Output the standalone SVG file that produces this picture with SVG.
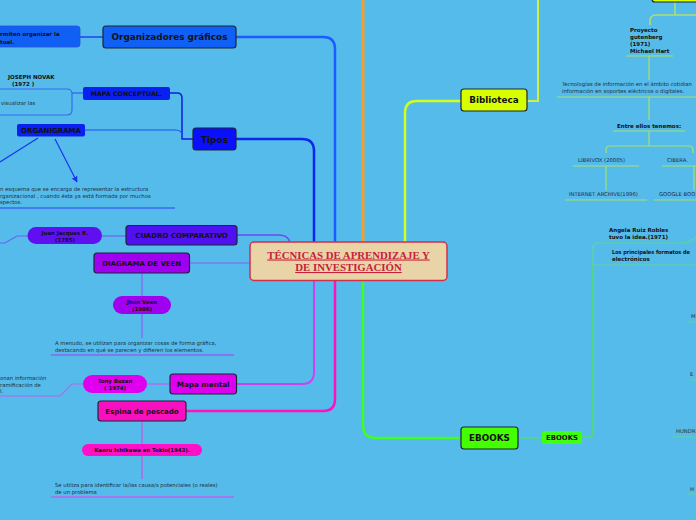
<svg xmlns="http://www.w3.org/2000/svg" width="696" height="520" viewBox="0 0 696 520">
<defs>
<style>
.nd{stroke:#1b2733;stroke-width:1.2}
.t{font-family:"DejaVu Sans",Verdana,sans-serif;font-weight:bold;fill:#111;text-anchor:middle}
.s{font-family:"DejaVu Sans",Verdana,sans-serif;font-size:5.3px;fill:#1e2d3c}
.sb{font-family:"DejaVu Sans",Verdana,sans-serif;font-size:5.5px;font-weight:bold;fill:#111}
.c{fill:none}
</style>
<marker id="arr" viewBox="0 0 10 10" refX="9" refY="5" markerWidth="5" markerHeight="5" orient="auto"><path d="M0,0 L10,5 L0,10 z" fill="#1a35f0"/></marker>
</defs>
<rect width="696" height="520" fill="#55bbea"/>

<g id="connectors" class="c">
<path d="M363,0 V242" stroke="#f0a030" stroke-width="3"/>
<path d="M236,37 H323 Q335,37 335,49 V242" stroke="#1a5cff" stroke-width="2.5"/>
<path d="M236,139 H302 Q314,139 314,151 V242" stroke="#0a28f0" stroke-width="2.5"/>
<path d="M237,235 H278 Q290,235 290,245" stroke="#6a4ef0" stroke-width="1.5"/>
<path d="M189,263 H250" stroke="#8a60f0" stroke-width="1.2"/>
<path d="M236,384 H302 Q314,384 314,372 V280" stroke="#d040f0" stroke-width="2"/>
<path d="M186,411 H323 Q335,411 335,399 V280" stroke="#ff10c0" stroke-width="2.5"/>
<path d="M363,280 V425 Q363,438 376,438 H461" stroke="#40ff20" stroke-width="2.5"/>
<path d="M405,242 V113 Q405,101 417,101 H461" stroke="#d0ff20" stroke-width="2.5"/>
<path d="M527,101 H538 V0" stroke="#d0f040" stroke-width="2"/>
<path d="M80,37 H103" stroke="#2a60f0" stroke-width="2"/>
<path d="M170,93 H177 Q182,93 182,98 V139 H193" stroke="#0a20e0" stroke-width="1.5"/>
<path d="M85,130 H176 Q182,130 182,136" stroke="#2050f0" stroke-width="1.2"/>
<path d="M83,93 H72" stroke="#2a60f0" stroke-width="1.2"/>
<path d="M0,89 H67 Q72,89 72,94 V110 Q72,115 67,115 H0" stroke="#3a6af0" stroke-width="1.2"/>
<path d="M38,138 L0,162" stroke="#1a35f0" stroke-width="1.2"/>
<path d="M55,139 L77,182" stroke="#1a35f0" stroke-width="1.2" marker-end="url(#arr)"/>
<path d="M0,208 H175" stroke="#3a6af0" stroke-width="1.5"/>
<path d="M102,236 H126" stroke="#7060f0" stroke-width="1.2"/>
<path d="M28,236 H17 L5,243 H0" stroke="#7060f0" stroke-width="1.2"/>
<path d="M142,273 V296 M142,314 V338" stroke="#8a60f0" stroke-width="1.2"/>
<path d="M51,355 H234" stroke="#9060f0" stroke-width="1.5"/>
<path d="M147,384 H170" stroke="#c060f0" stroke-width="1.2"/>
<path d="M83,384 H72 L60,396 H0" stroke="#c060f0" stroke-width="1.2"/>
<path d="M142,421 V444 M142,456 V479" stroke="#d050e0" stroke-width="1.2"/>
<path d="M51,497 H234" stroke="#c060f0" stroke-width="1.5"/>
<path d="M675,2 V15 M696,15 H656 Q650,15 650,21 V25" stroke="#b0e070" stroke-width="1.5"/>
<path d="M626,56 H673 M649,56 V80 M557,97 H696 M649,97 V120 M613,131 H685 M649,131 V146" stroke="#a8e070" stroke-width="1.2"/>
<path d="M606,153 V150 Q606,146 610,146 H689 Q693,146 693,150 V153" stroke="#a8e070" stroke-width="1.2"/>
<path d="M573,166 H639 M662,166 H696 M606,166 V190 M694,166 V186 Q694,190 693,190 M565,200 H647 M654,200 H696" stroke="#a8e070" stroke-width="1.2"/>
<path d="M696,237 Q690,243 683,243 H598 Q593,243 593,248 V265 H696" stroke="#60d890" stroke-width="1.2"/>
<path d="M593,265 V433 Q593,437 589,437 H582" stroke="#50d880" stroke-width="2"/>
<path d="M518,438 H542" stroke="#50d880" stroke-width="1.5"/>
<path d="M687,322 H696 M690,380 H696 M672,437 H696 M688,494 H696" stroke="#60d890" stroke-width="1.2"/>
</g>

<g id="central">
<rect x="250" y="242" width="197" height="38.5" rx="4" fill="#e9d4a8" stroke="#d0304a" stroke-width="1.5"/>
<text x="348.5" y="258.5" font-family="'Liberation Serif','Times New Roman',serif" font-weight="bold" font-size="10.8" fill="#c8203a" text-anchor="middle" text-decoration="underline">TÉCNICAS DE APRENDIZAJE Y</text>
<text x="348.5" y="271" font-family="'Liberation Serif','Times New Roman',serif" font-weight="bold" font-size="10.8" fill="#c8203a" text-anchor="middle" text-decoration="underline">DE INVESTIGACIÓN</text>
</g>

<g id="n-organizadores">
<rect class="nd" x="103" y="26" width="133" height="22" rx="3" fill="#1060f5"/>
<text class="t" x="169.5" y="40.2" font-size="8.9">Organizadores gráficos</text>
</g>
<g id="n-permiten">
<rect x="-10" y="26" width="90" height="21" rx="3" fill="#1060f5" stroke="#2a50d0" stroke-width="0.8"/>
<text class="sb" x="0" y="35.5" font-size="6.9">rmiten organizar la</text>
<text class="sb" x="0" y="44" font-size="6.9">tual.</text>
</g>
<g id="n-tipos">
<rect class="nd" x="193" y="128" width="43" height="22" rx="3" fill="#0a10ff"/>
<text class="t" x="214.5" y="142.5" font-size="9">Tipos</text>
</g>
<g id="n-mapa-conceptual">
<rect x="83" y="87" width="87" height="13" rx="2" fill="#0a20f0"/>
<text class="t" x="126.5" y="96" font-size="6.3">MAPA CONCEPTUAL.</text>
</g>
<g id="n-novak">
<text class="sb" x="8" y="79">JOSEPH NOVAK</text>
<text class="sb" x="12" y="86">(1972 )</text>
<text class="s" x="1" y="105">visualizar las</text>
</g>
<g id="n-organigrama">
<rect x="17" y="124" width="68" height="12.5" rx="2" fill="#0a20f0"/>
<text class="t" x="51" y="132.8" font-size="7">ORGANIGRAMA</text>
</g>
<g id="n-organigrama-text">
<text class="s" x="0" y="191">n esquema que se encarga de representar la estructura</text>
<text class="s" x="0" y="197.5">rganizacional , cuando ésta ya está formada por muchos</text>
<text class="s" x="0" y="204">spectos.</text>
</g>
<g id="n-cuadro">
<rect class="nd" x="126" y="225.5" width="111" height="19.5" rx="3" fill="#5010f0"/>
<text class="t" x="181.5" y="237.8" font-size="7">CUADRO COMPARATIVO</text>
</g>
<g id="n-juan">
<rect x="27.5" y="227" width="74.5" height="17" rx="8.5" fill="#6010f0"/>
<text class="t" x="65" y="234.5" font-size="5.4">Juan Jacques R.</text>
<text class="t" x="65" y="241.5" font-size="5.4">(1785)</text>
</g>
<g id="n-diagrama">
<rect class="nd" x="94" y="253" width="95.5" height="20" rx="3" fill="#a000f0"/>
<text class="t" x="141.7" y="265.5" font-size="7">DIAGRAMA DE VEEN</text>
</g>
<g id="n-jhon">
<rect x="113" y="296" width="58" height="18" rx="9" fill="#a000f0"/>
<text class="t" x="142" y="304" font-size="5.4">Jhon Veen</text>
<text class="t" x="142" y="311" font-size="5.4">(1986)</text>
</g>
<g id="n-veen-text">
<text class="s" x="55" y="345">A menudo, se utilizan para organizar cosas de forma gráfica,</text>
<text class="s" x="55" y="352">destacando en qué se parecen y difieren los elementos.</text>
</g>
<g id="n-mapa-mental">
<rect class="nd" x="170" y="374" width="66.5" height="20" rx="3" fill="#e000f0"/>
<text class="t" x="203.2" y="386.8" font-size="7.2">Mapa mental</text>
</g>
<g id="n-tony">
<rect x="83" y="375" width="64" height="18" rx="9" fill="#e000f0"/>
<text class="t" x="115" y="382.5" font-size="5.4">Tony Buzan</text>
<text class="t" x="115" y="389.8" font-size="5.4">( 1974)</text>
</g>
<g id="n-tony-text">
<text class="s" x="0" y="380">onan información</text>
<text class="s" x="0" y="386.5"> ramificación de</text>
<text class="s" x="0" y="393">l.</text>
</g>
<g id="n-espina">
<rect class="nd" x="98" y="401" width="88" height="20" rx="3" fill="#f810c0"/>
<text class="t" x="142" y="413.7" font-size="7">Espina de pescado</text>
</g>
<g id="n-kaoru">
<rect x="82" y="444" width="120" height="12" rx="6" fill="#ff10c8"/>
<text class="t" x="142" y="452.3" font-size="5.4">Kaoru Ishikawa en Tokio(1943).</text>
</g>
<g id="n-espina-text">
<text class="s" x="55" y="487">Se utiliza para identificar la/las causa/s potenciales (o reales)</text>
<text class="s" x="55" y="493.5">de un problema</text>
</g>

<g id="n-biblioteca">
<rect class="nd" x="461" y="89" width="66" height="22" rx="3" fill="#d8ff00"/>
<text class="t" x="494" y="103.3" font-size="8.8">Biblioteca</text>
</g>
<g id="n-top-right">
<rect class="nd" x="652" y="-22" width="60" height="24" rx="3" fill="#d8ff00"/>
</g>
<g id="n-gutenberg">
<text class="sb" x="630" y="32">Proyecto</text>
<text class="sb" x="630" y="39">gutenberg</text>
<text class="sb" x="630" y="45.5">(1971)</text>
<text class="sb" x="630" y="52.5">Michael Hart</text>
</g>
<g id="n-tecnologias">
<text class="s" x="562" y="86">Tecnologías de información en el ámbito cotidian</text>
<text class="s" x="562" y="93">información en soportes eléctricos  o digitales.</text>
</g>
<g id="n-entre">
<text class="sb" x="617" y="127.5">Entre ellos tenemos:</text>
</g>
<g id="n-librivox"><text class="s" x="578" y="162">LIBRIVOX     (20005)</text></g>
<g id="n-cibera"><text class="s" x="667" y="162">CIBERA.</text></g>
<g id="n-internet"><text class="s" x="569" y="196">INTERNET ARCHIVE(1996)</text></g>
<g id="n-google"><text class="s" x="659" y="196">GOOGLE BOO</text></g>

<g id="n-ebooks">
<rect class="nd" x="461" y="427" width="57" height="22" rx="3" fill="#44ff00"/>
<text class="t" x="489.5" y="441.3" font-size="8.8">EBOOKS</text>
</g>
<g id="n-ebooks-small">
<rect x="542" y="431" width="40" height="13" rx="2" fill="#40ff10"/>
<text class="t" x="562" y="440" font-size="6.9">EBOOKS</text>
</g>
<g id="n-angela">
<text class="sb" x="609" y="232">Angela Ruiz Robles</text>
<text class="sb" x="609" y="239">tuvo la idea.(1971)</text>
</g>
<g id="n-formatos">
<text class="sb" x="612" y="254" font-size="5.2" textLength="78" lengthAdjust="spacingAndGlyphs">Los principales formatos de</text>
<text class="sb" x="612" y="261" font-size="5.2">electrónicos</text>
</g>
<g id="n-m"><text class="s" x="691" y="318">M</text></g>
<g id="n-e"><text class="s" x="690" y="376">E</text></g>
<g id="n-hundr"><text class="s" x="676" y="433">HUNDR</text></g>
<g id="n-h"><text class="s" x="690" y="491">H</text></g>
</svg>
